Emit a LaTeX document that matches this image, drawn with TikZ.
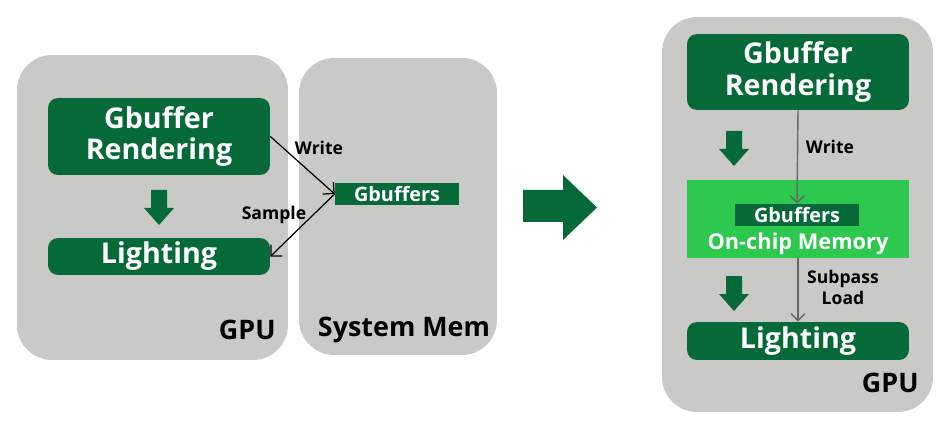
\documentclass[tikz,border=0pt]{standalone}
\usepackage{fontspec}
\setmainfont{Open Sans}
\usetikzlibrary{positioning, arrows.meta}

\definecolor{darkgreen}{HTML}{066A38}
\definecolor{chipgreen}{HTML}{2DC84E}
\definecolor{panelgray}{HTML}{C9C9C8}

\begin{document}
\begin{tikzpicture}[x=0.02cm, y=-0.02cm, font=\bfseries,
        panel/.style={rectangle, fill=panelgray, rounded corners=0.7cm, inner sep=0pt},
        stage/.style={rectangle, fill=darkgreen, rounded corners=0.2cm, inner sep=0pt,
            text=white, align=center, font=\bfseries\fontsize{16.3}{18}\selectfont},
        buf/.style={rectangle, fill=darkgreen, inner sep=0pt, text=white,
            font=\bfseries\fontsize{11.3}{13}\selectfont},
        lbl/.style={inner sep=0pt, align=center, font=\bfseries\fontsize{10}{12}\selectfont},
        title/.style={inner sep=0pt, font=\bfseries\fontsize{15.3}{17}\selectfont}]
    \useasboundingbox (0,0) rectangle (951,429);

    % left: deferred shading through system memory
    \node[panel, minimum width=5.42cm, minimum height=6.1cm] (gpuL) at (152.5,207.5) {};
    \node[panel, minimum width=3.96cm, minimum height=5.94cm] (mem) at (398,206.5) {};
    \node[stage, minimum width=4.44cm, minimum height=1.54cm] (grL) at (159,136.5) {Gbuffer\\Rendering};
    \node[stage, minimum width=4.44cm, minimum height=0.74cm] (lightL) at (159,256.5) {Lighting};
    \node[buf, minimum width=2.48cm, minimum height=0.44cm] (gbL) at (397,194) {Gbuffers};
    \fill[darkgreen] (151,190) -- (167,190) -- (167,208) -- (174,208) -- (159,225)
        -- (144,208) -- (151,208) -- cycle;
    \draw[-{Straight Barb[length=1.6mm]}, line width=0.7pt] (grL.east) -- (gbL.west);
    \draw[-{Straight Barb[length=1.6mm]}, line width=0.7pt] (gbL.west) -- (lightL.east);
    \node[lbl] (wrL) at (319,148) {Write};
    \node[lbl] (saL) at (274,215) {Sample};
    \node[title, anchor=east] (gpuLtxt) at (276,330) {GPU};
    \node[title] (memtxt) at (404,330) {System Mem};

    % big arrow
    \fill[darkgreen] (523,190) -- (563,190) -- (563,175) -- (597,207.5) -- (563,240)
        -- (563,222) -- (523,222) -- cycle;

    % right: subpass with on-chip memory
    \node[panel, minimum width=5.42cm, minimum height=7.9cm] (gpuR) at (797.5,214.5) {};
    \node[stage, minimum width=4.44cm, minimum height=1.52cm] (grR) at (798,72) {Gbuffer\\Rendering};
    \node[rectangle, fill=chipgreen, inner sep=0pt, minimum width=4.44cm,
        minimum height=1.56cm] (chip) at (798,219) {};
    \node[buf, minimum width=2.48cm, minimum height=0.44cm] (gbR) at (797,215) {Gbuffers};
    \node[inner sep=0pt, text=white, font=\bfseries\fontsize{12.4}{14}\selectfont] (chiptxt)
        at (798,244) {On-chip Memory};
    \node[stage, minimum width=4.44cm, minimum height=0.76cm] (lightR) at (798,341) {Lighting};
    \fill[darkgreen] (726,131) -- (742,131) -- (742,149) -- (749,149) -- (734,166)
        -- (719,149) -- (726,149) -- cycle;
    \fill[darkgreen] (726,276) -- (742,276) -- (742,294) -- (749,294) -- (734,311)
        -- (719,294) -- (726,294) -- cycle;
    \draw[-{Straight Barb[length=1.4mm]}, line width=0.8pt, gray!80!black] (grR.south) -- (gbR.north);
    \draw[-{Straight Barb[length=1.4mm]}, line width=0.8pt, gray!80!black] (chip.south) -- (lightR.north);
    \node[lbl] (wrR) at (830,147) {Write};
    \node[lbl] (slR) at (843,287) {Subpass\\Load};
    \node[title, anchor=east] (gpuRtxt) at (919,383) {GPU};
\end{tikzpicture}
\end{document}
